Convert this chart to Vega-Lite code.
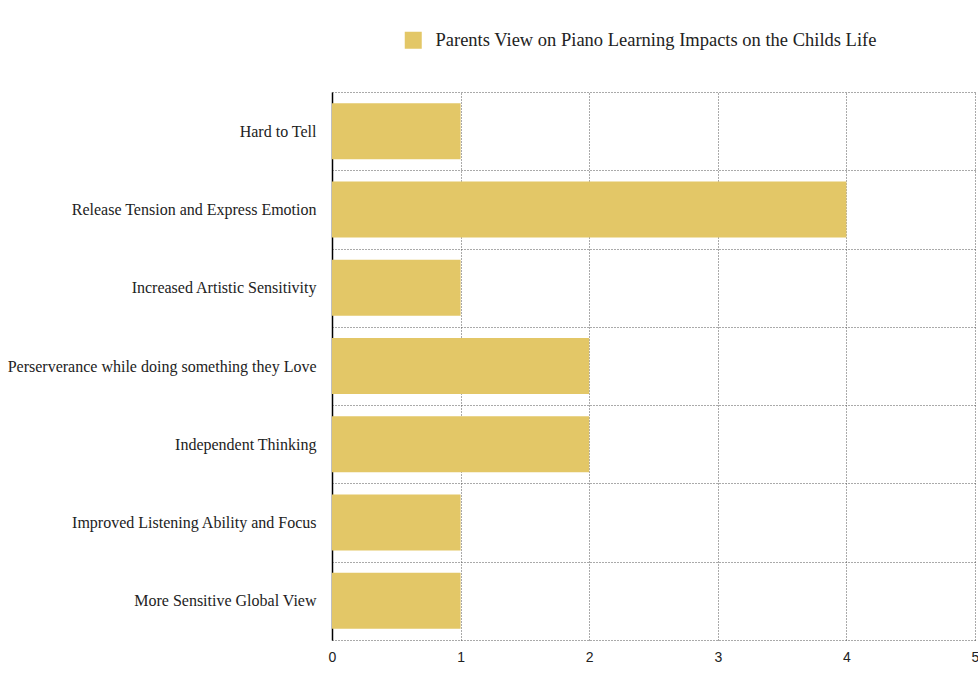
{
  "$schema": "https://vega.github.io/schema/vega-lite/v6.json",
  "autosize": {"type": "none"},
  "padding": {"left": 332, "top": 92, "right": 3, "bottom": 39},
  "width": 643,
  "height": 548,
  "background": "white",
  "data": {
    "values": [
      {"impact": "Hard to Tell", "count": 1, "series": "Parents View on Piano Learning Impacts on the Childs Life"},
      {"impact": "Release Tension and Express Emotion", "count": 4, "series": "Parents View on Piano Learning Impacts on the Childs Life"},
      {"impact": "Increased Artistic Sensitivity", "count": 1, "series": "Parents View on Piano Learning Impacts on the Childs Life"},
      {"impact": "Perserverance while doing something they Love", "count": 2, "series": "Parents View on Piano Learning Impacts on the Childs Life"},
      {"impact": "Independent Thinking", "count": 2, "series": "Parents View on Piano Learning Impacts on the Childs Life"},
      {"impact": "Improved Listening Ability and Focus", "count": 1, "series": "Parents View on Piano Learning Impacts on the Childs Life"},
      {"impact": "More Sensitive Global View", "count": 1, "series": "Parents View on Piano Learning Impacts on the Childs Life"}
    ]
  },
  "mark": {"type": "bar", "height": {"band": 0.715}},
  "encoding": {
    "y": {
      "field": "impact",
      "type": "nominal",
      "sort": null,
      "scale": {"paddingInner": 0, "paddingOuter": 0},
      "axis": {
        "title": null,
        "tickBand": "extent",
        "ticks": false,
        "grid": true,
        "gridColor": "#555555",
        "gridDash": [1, 2],
        "gridWidth": 1,
        "domain": true,
        "domainColor": "#000000",
        "domainWidth": 1.5,
        "labelFont": "Liberation Serif",
        "labelFontSize": 16,
        "labelColor": "#222222",
        "labelPadding": 16,
        "labelLimit": 400
      }
    },
    "x": {
      "field": "count",
      "type": "quantitative",
      "scale": {"domain": [0, 5], "nice": false},
      "axis": {
        "title": null,
        "values": [0, 1, 2, 3, 4, 5],
        "labelOverlap": false,
        "ticks": false,
        "domain": false,
        "grid": true,
        "gridColor": "#555555",
        "gridDash": [1, 2],
        "gridWidth": 1,
        "labelFont": "Liberation Sans",
        "labelFontSize": 14,
        "labelColor": "#222222",
        "labelPadding": 10,
        "labelFlush": false
      }
    },
    "fill": {
      "field": "series",
      "type": "nominal",
      "scale": {"range": ["#E3C767"]},
      "legend": {
        "title": null,
        "orient": "none",
        "legendX": 72,
        "legendY": -61,
        "symbolType": "square",
        "symbolSize": 289,
        "symbolStrokeWidth": 0,
        "labelFont": "Liberation Serif",
        "labelFontSize": 18.5,
        "labelColor": "#222222",
        "labelOffset": 13,
        "labelLimit": 600
      }
    }
  },
  "config": {
    "view": {"stroke": null}
  }
}
